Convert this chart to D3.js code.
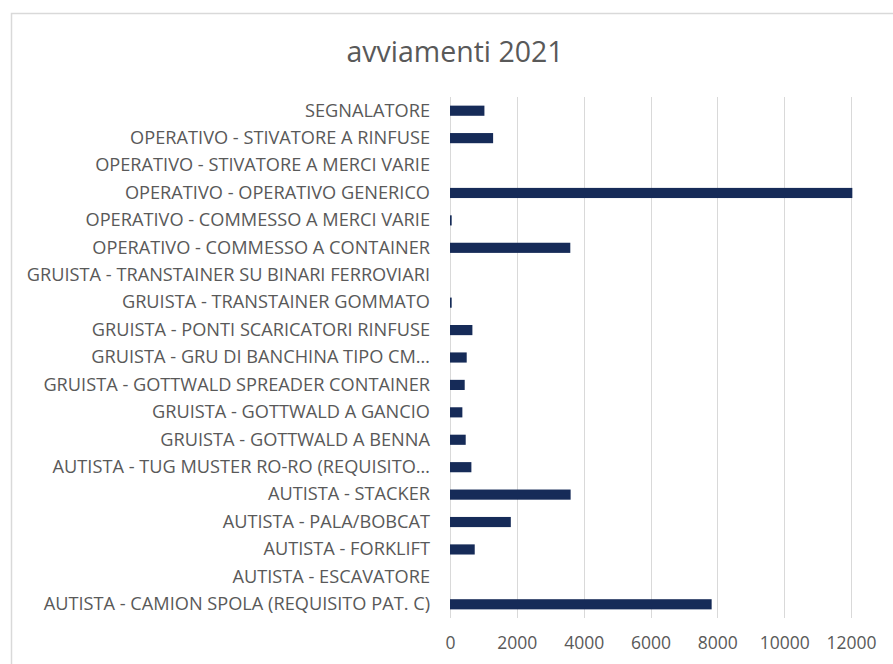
<!DOCTYPE html>
<html>
<head>
<meta charset="utf-8">
<script src="https://cdn.jsdelivr.net/npm/d3@7"></script>
<style>
  body { margin: 0; background: #fff; }
  svg text { font-family: "Open Sans", sans-serif; fill: #595959; }
</style>
</head>
<body>
<div id="chart"></div>
<script>
// categories, top to bottom as drawn
var categories = [
  "SEGNALATORE",
  "OPERATIVO - STIVATORE A RINFUSE",
  "OPERATIVO - STIVATORE A MERCI VARIE",
  "OPERATIVO - OPERATIVO GENERICO",
  "OPERATIVO - COMMESSO A MERCI VARIE",
  "OPERATIVO - COMMESSO A CONTAINER",
  "GRUISTA - TRANSTAINER SU BINARI FERROVIARI",
  "GRUISTA - TRANSTAINER GOMMATO",
  "GRUISTA - PONTI SCARICATORI RINFUSE",
  "GRUISTA - GRU DI BANCHINA TIPO CM\u2026",
  "GRUISTA - GOTTWALD SPREADER CONTAINER",
  "GRUISTA - GOTTWALD A GANCIO",
  "GRUISTA - GOTTWALD A BENNA",
  "AUTISTA - TUG MUSTER RO-RO (REQUISITO\u2026",
  "AUTISTA - STACKER",
  "AUTISTA - PALA/BOBCAT",
  "AUTISTA - FORKLIFT",
  "AUTISTA - ESCAVATORE",
  "AUTISTA - CAMION SPOLA (REQUISITO PAT. C)"
];
var values = [1030, 1290, 0, 12040, 50, 3600, 0, 50, 670, 500, 440, 370, 470, 640, 3610, 1820, 740, 0, 7830];
var xTicks = [0, 2000, 4000, 6000, 8000, 10000, 12000];
var title = "avviamenti 2021";

var width = 893, height = 664;
var plot = { left: 450, right: 851, top: 97, bottom: 618 };

var svg = d3.select("#chart").append("svg")
  .attr("width", width)
  .attr("height", height);

// chart frame (runs off the right and bottom edges)
svg.append("rect")
  .attr("x", 11.5).attr("y", 13.5)
  .attr("width", 900).attr("height", 700)
  .attr("fill", "none")
  .attr("stroke", "#d9d9d9")
  .attr("stroke-width", 1.5);

svg.append("text")
  .attr("x", 455).attr("y", 62)
  .attr("text-anchor", "middle")
  .style("font-size", "28.5px")
  .text(title);

var x = d3.scaleLinear().domain([0, 12000]).range([plot.left, plot.right]);
var y = d3.scaleBand().domain(categories)
  .range([plot.top, plot.bottom])
  .paddingInner(0.63).paddingOuter(0.315);

// gridlines
svg.append("g")
  .selectAll("line")
  .data(xTicks)
  .join("line")
  .attr("x1", d => Math.round(x(d)) + 0.5)
  .attr("x2", d => Math.round(x(d)) + 0.5)
  .attr("y1", plot.top)
  .attr("y2", plot.bottom)
  .attr("stroke", "#d9d9d9")
  .attr("stroke-width", 1);

// bars
svg.append("g")
  .selectAll("rect")
  .data(values)
  .join("rect")
  .attr("x", x(0))
  .attr("y", (d, i) => y(categories[i]))
  .attr("width", d => x(d) - x(0))
  .attr("height", y.bandwidth())
  .attr("fill", "#162b58");

// x axis labels
var xAxis = d3.axisBottom(x).tickValues(xTicks).tickSize(0).tickPadding(0).tickFormat(d3.format("d"));
var gx = svg.append("g")
  .attr("transform", `translate(0,${plot.bottom})`)
  .call(xAxis);
gx.select(".domain").remove();
gx.selectAll("text")
  .attr("dy", null)
  .attr("y", 31)
  .style("font-size", "17.5px")
  .style("fill", "#595959")
  .style("font-family", '"Open Sans", sans-serif');

// category labels
var yAxis = d3.axisLeft(y).tickSize(0).tickPadding(0);
var gy = svg.append("g")
  .attr("transform", `translate(430,0)`)
  .call(yAxis);
gy.select(".domain").remove();
gy.selectAll("text")
  .style("font-size", "18.2px")
  .style("fill", "#595959")
  .style("font-family", '"Open Sans", sans-serif');
</script>
</body>
</html>
